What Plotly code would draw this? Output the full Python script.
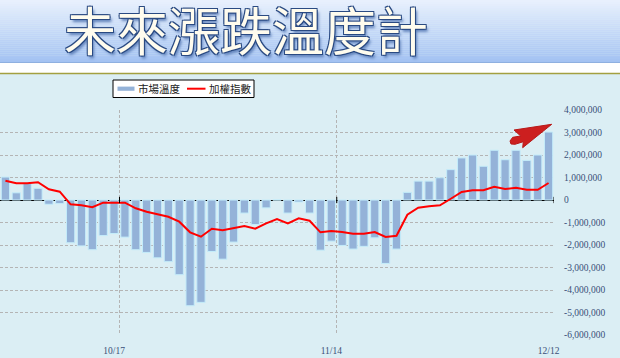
import plotly.graph_objects as go

# ---------------- data ----------------
dates = ["10/2", "10/3", "10/6", "10/7", "10/8", "10/9", "10/13", "10/14", "10/15", "10/16", "10/17",
         "10/20", "10/21", "10/22", "10/23", "10/24", "10/27", "10/28", "10/29", "10/30", "10/31",
         "11/3", "11/4", "11/5", "11/6", "11/7", "11/10", "11/11", "11/12", "11/13", "11/14",
         "11/17", "11/18", "11/19", "11/20", "11/21", "11/24", "11/25", "11/26", "11/27", "11/28",
         "12/1", "12/2", "12/3", "12/4", "12/5", "12/8", "12/9", "12/10", "12/11", "12/12"]

market_temp = [1020000, 320000, 750000, 520000, -190000, -160000, -1900000, -2040000, -2210000, -1580000, -1490000,
               -1650000, -2210000, -2330000, -2570000, -2740000, -3320000, -4700000, -4550000, -2290000, -2630000,
               -1870000, -580000, -1090000, -350000, 0, -580000, -90000, -580000, -2230000, -1830000,
               -2020000, -2180000, -2060000, -1680000, -2820000, -2180000, 340000, 840000, 840000, 990000,
               1350000, 1870000, 2000000, 1500000, 2210000, 1790000, 2210000, 1760000, 2000000, 3020000]

weighted_index = [5214, 5186, 5186, 5197, 5119, 5092, 4952, 4941, 4919, 4970, 4970,
                  4970, 4908, 4870, 4841, 4814, 4759, 4641, 4592, 4681, 4663,
                  4686, 4711, 4681, 4741, 4789, 4741, 4797, 4770, 4641, 4656,
                  4644, 4626, 4626, 4644, 4589, 4603, 4837, 4914, 4930, 4941,
                  5014, 5089, 5108, 5108, 5148, 5122, 5137, 5114, 5114, 5189]

label_dates = ["10/17", "11/14", "12/12"]
y_tickvals = [4000000, 3000000, 2000000, 1000000, 0, -1000000, -2000000, -3000000, -4000000, -5000000, -6000000]
y_ticktext = [f"{v:,}" for v in y_tickvals]

series_names = ["市場溫度", "加權指數"]
title_text = "未來漲跌溫度計"

# ---------------- layout constants ----------------
W, H = 620, 358
ML, MR, MT, MB = 0, 66, 110, 23
PW, PH = W - ML - MR, H - MT - MB
BG = "#dbeef4"
BAR_COLOR = "#94b2d8"
BAR_EDGE = "#c4ecfa"
LINE_COLOR = "#ff0000"
TICK_FONT = dict(family="Liberation Serif", size=9.5, color="#3a5078")


def pxx(px):
    return (px - ML) / PW


def pxy(py):
    return (H - MB - py) / PH


xs = list(range(len(dates)))
label_idx = [dates.index(d) for d in label_dates]

fig = go.Figure()
fig.add_trace(go.Bar(
    x=xs, y=market_temp, name=series_names[0], width=0.76, showlegend=False,
    marker=dict(color=BAR_COLOR, line=dict(color=BAR_EDGE, width=1)),
))
fig.add_trace(go.Scatter(
    x=xs, y=weighted_index, name=series_names[1], yaxis="y2", mode="lines", showlegend=False,
    line=dict(color=LINE_COLOR, width=2),
))

shapes = []
# header gradient banner
N = 32
top_c = (232, 240, 253)
bot_c = (163, 194, 242)
for k in range(N):
    t = k / (N - 1)
    c = tuple(round(top_c[i] + (bot_c[i] - top_c[i]) * t) for i in range(3))
    shapes.append(dict(type="rect", xref="paper", yref="paper", layer="below",
                       x0=pxx(0), x1=pxx(W), y0=pxy(63 * (k + 1) / N), y1=pxy(63 * k / N),
                       fillcolor=f"rgb{c}", line=dict(width=0)))
shapes.append(dict(type="line", xref="paper", yref="paper", layer="below",
                   x0=pxx(0), x1=pxx(W), y0=pxy(62.5), y1=pxy(62.5),
                   line=dict(color="#8fb0e0", width=1)))
# white band + olive rule
shapes.append(dict(type="rect", xref="paper", yref="paper", layer="below",
                   x0=pxx(0), x1=pxx(W), y0=pxy(73), y1=pxy(63),
                   fillcolor="#ffffff", line=dict(width=0)))
shapes.append(dict(type="line", xref="paper", yref="paper", layer="below",
                   x0=pxx(0), x1=pxx(W), y0=pxy(73.5), y1=pxy(73.5),
                   line=dict(color="#a3a040", width=1.5)))
# small tick marks on the zero axis at the labelled dates
for i in label_idx:
    shapes.append(dict(type="line", xref="x", yref="y", x0=i + 0.5, x1=i + 0.5,
                       y0=-140000, y1=140000, line=dict(color="#000000", width=1)))
# red arrow decoration
arrow_pts = [(551.7, 124.3), (514, 130), (520.7, 136), (512.7, 137.3), (510, 141),
             (511, 144), (515, 144.3), (523.3, 141.7), (522.7, 147.7)]
path = "M " + " L ".join(f"{pxx(a):.5f},{pxy(b):.5f}" for a, b in arrow_pts) + " Z"
shapes.append(dict(type="path", xref="paper", yref="paper", path=path,
                   fillcolor="#cc1f1f", line=dict(color="#b81818", width=1)))

# legend box (compact, Excel style)
shapes.append(dict(type="rect", xref="paper", yref="paper",
                   x0=pxx(113), x1=pxx(254), y0=pxy(97.5), y1=pxy(80),
                   fillcolor="#ffffff", line=dict(color="#000000", width=1)))
shapes.append(dict(type="rect", xref="paper", yref="paper",
                   x0=pxx(117.5), x1=pxx(134.5), y0=pxy(90.8), y1=pxy(86.6),
                   fillcolor=BAR_COLOR, line=dict(width=0)))
shapes.append(dict(type="line", xref="paper", yref="paper",
                   x0=pxx(187), x1=pxx(205.5), y0=pxy(88.7), y1=pxy(88.7),
                   line=dict(color=LINE_COLOR, width=2)))

legend_font = dict(family="Noto Sans CJK TC", size=10.5, color="#222222")
annotations = [
    dict(text=title_text, xref="paper", yref="paper", x=pxx(246), y=pxy(33.5),
         xanchor="center", yanchor="middle", showarrow=False, borderpad=0,
         font=dict(family="Liberation Sans, Noto Sans CJK TC", size=52, color="#fffcee",
                   shadow="-1px -1px 0 #2a4a82, 1px -1px 0 #2a4a82, -1px 1px 0 #2a4a82, 1px 1px 0 #2a4a82, 2px 3px 3px #5d7fb8")),
    dict(text=series_names[0], xref="paper", yref="paper", x=pxx(136), y=pxy(88.6),
         xanchor="left", yanchor="middle", showarrow=False, font=legend_font),
    dict(text=series_names[1], xref="paper", yref="paper", x=pxx(206.5), y=pxy(88.6),
         xanchor="left", yanchor="middle", showarrow=False, font=legend_font),
]

fig.update_layout(
    width=W, height=H,
    margin=dict(l=ML, r=MR, t=MT, b=MB, pad=0),
    paper_bgcolor=BG, plot_bgcolor=BG,
    template="none",
    showlegend=False,
    bargap=0.24,
    xaxis=dict(range=[-0.5, len(dates) - 0.5], tickmode="array",
               tickvals=label_idx, ticktext=label_dates, showgrid=False, zeroline=False,
               showline=False, ticks="", ticklabelstandoff=8,
               tickfont=dict(family="Liberation Serif", size=9.5, color="#3a5078"),
               minor=dict(tickmode="array", tickvals=[i + 0.5 for i in label_idx], showgrid=True,
                          gridcolor="#b4b4b4", griddash="3px,2px", gridwidth=1, ticks=""),
               automargin=False, fixedrange=True),
    yaxis=dict(range=[-6000000, 4000000], side="right", tickmode="array",
               tickvals=y_tickvals, ticktext=y_ticktext, showgrid=True,
               gridcolor="#b4b4b4", griddash="3px,2px", gridwidth=1,
               zeroline=True, zerolinecolor="#000000", zerolinewidth=1.3,
               showline=False, ticks="", ticklabelstandoff=9,
               tickfont=TICK_FONT,
               automargin=False, fixedrange=True),
    yaxis2=dict(range=[3500, 6000], overlaying="y", side="right", visible=False,
                showgrid=False, zeroline=False, fixedrange=True),
    shapes=shapes,
    annotations=annotations,
)

fig.write_html("out.html", config={"displayModeBar": False},
               post_script="document.body.style.margin='0';document.body.style.overflow='hidden';")
